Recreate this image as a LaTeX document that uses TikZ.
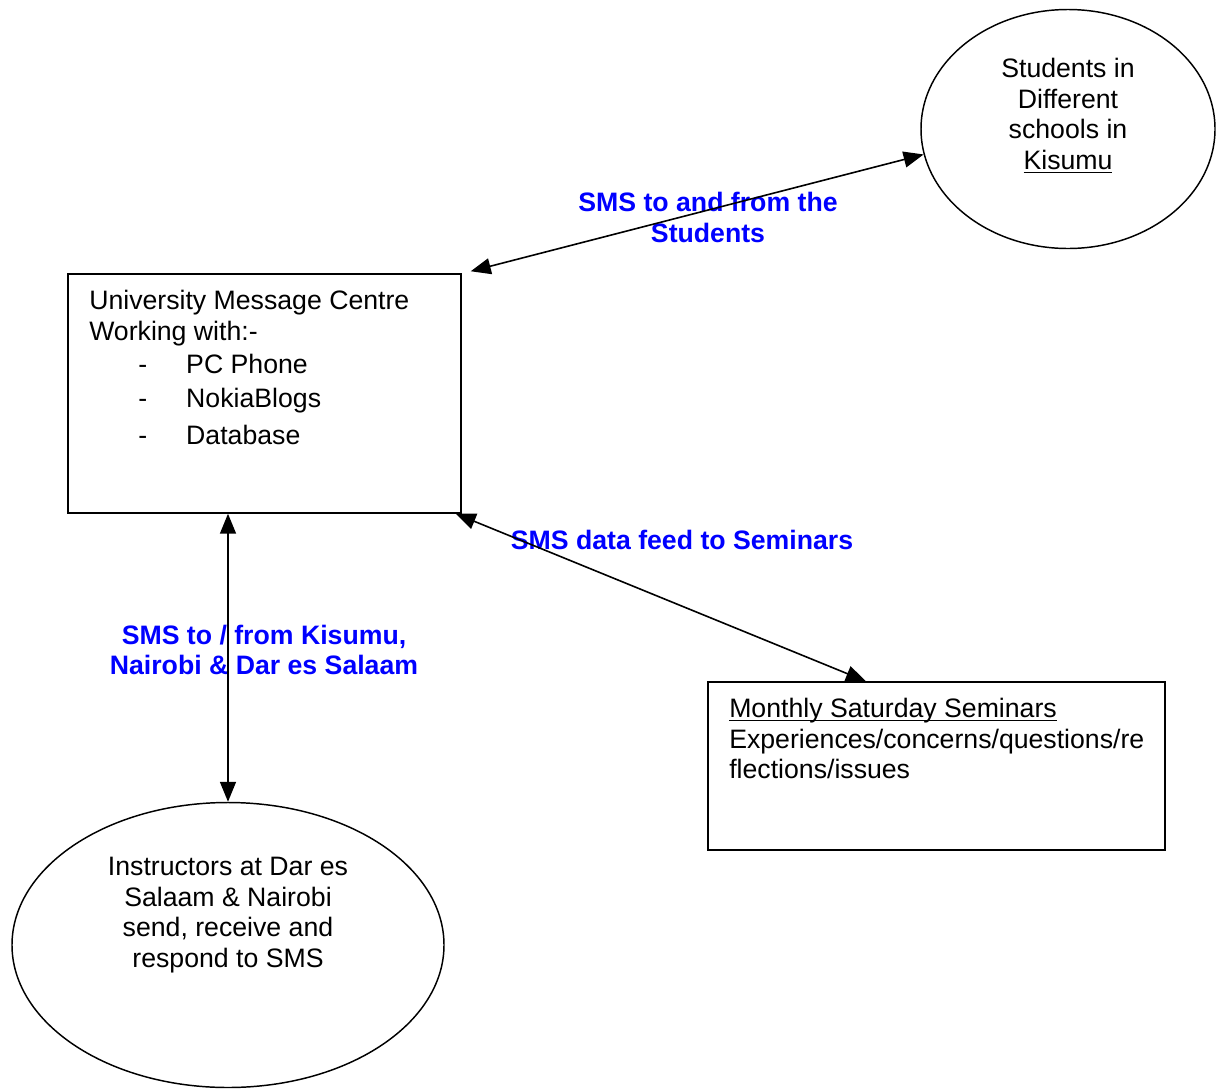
\documentclass[tikz,border=0pt]{standalone}
\usepackage{fontspec}
\setmainfont{Liberation Sans}
\usetikzlibrary{arrows.meta,shapes.geometric}

\newlength\ulwd
\newcommand{\ultext}[1]{\settowidth{\ulwd}{#1}\rlap{#1}\rule[-2.4pt]{\ulwd}{0.8pt}}

\begin{document}
\begin{tikzpicture}[x=0.75pt,y=-0.75pt]
\tikzstyle{txt}=[inner sep=0pt,font=\fontsize{20}{23}\selectfont]
\tikzstyle{sms}=[inner sep=0pt,text=blue,align=center,font=\fontsize{20}{23.5}\selectfont\bfseries]
\tikzstyle{box}=[rectangle,draw=black,line width=1.1pt]
\tikzstyle{oval}=[ellipse,draw=black,line width=1.1pt]
\tikzstyle{link}=[line width=1.2pt,>={Triangle[length=15pt,width=12pt]},<->]
\useasboundingbox (0,0) rectangle (1217,1089);
% shapes
\node[box,minimum width=294.75pt,minimum height=179.25pt] (umc) at (264.5,393.5) {};
\node[box,minimum width=342.75pt,minimum height=126pt] (sem) at (936.5,766) {};
\node[oval,minimum width=220.5pt,minimum height=179.25pt] (stud) at (1068,129) {};
\node[oval,minimum width=324pt,minimum height=213.75pt] (inst) at (228,945) {};
% texts
\node[txt,anchor=north west,align=left] (umctxt) at (89,290) {University Message Centre\\Working with:-\\[2.2pt]\hspace*{36.75pt}\makebox[36pt][l]{-}PC Phone\\[2.2pt]\hspace*{36.75pt}\makebox[36pt][l]{-}NokiaBlogs\\[5pt]\hspace*{36.75pt}\makebox[36pt][l]{-}Database};
\node[txt,anchor=north west,align=left] (semtxt) at (729,698) {\ultext{Monthly Saturday Seminars}\\Experiences/concerns/questions/re\\flections/issues};
\node[txt,anchor=north,align=center] (studtxt) at (1068,58) {Students in\\Different\\schools in\\\ultext{Kisumu}};
\node[txt,anchor=north,align=center] (insttxt) at (228,857) {Instructors at Dar es\\Salaam \& Nairobi\\send, receive and\\respond to SMS};
% labels
\node[sms,anchor=north] (lbstud) at (708,192) {SMS to and from the\\Students};
\node[sms] (lbsem) at (682,540) {SMS data feed to Seminars};
\node[sms,anchor=north,font=\fontsize{20}{22.5}\selectfont\bfseries] (lbinst) at (264,625) {SMS to / from Kisumu,\\Nairobi \& Dar es Salaam};
% connectors
\draw[link] ([xshift=6.75pt,yshift=1.5pt]umc.north east) -- (stud.190);
\draw[link] (inst.north) -- (inst.north |- umc.south);
\draw[link] ([xshift=-4.5pt]umc.south east) -- ([xshift=119pt]sem.north west);
\end{tikzpicture}
\end{document}
